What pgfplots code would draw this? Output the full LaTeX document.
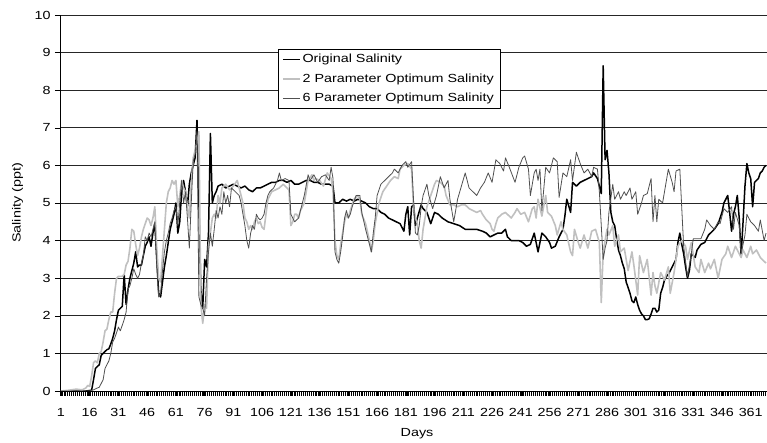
\documentclass[border=0pt]{standalone}
\usepackage{fontspec}
\setmainfont{Liberation Sans}[FakeStretch=1.22]
\usepackage{pgfplots}
\pgfplotsset{compat=1.18}
\definecolor{lgray}{RGB}{192,192,192}
\definecolor{dgray}{RGB}{80,80,80}
\begin{document}
\begin{tikzpicture}[font=\fontsize{11.8}{14}\selectfont]
\begin{axis}[
  at={(0,0)}, anchor=south west,
  scale only axis, width=707bp, height=376bp,
  xmin=0.5, xmax=369.5, ymin=0, ymax=10,
  axis x line*=bottom, axis y line*=left,
  axis line style={-, line width=0.8bp, black},
  ytick={0,1,...,10},
  xtick={1,16,...,361},
  minor xtick={0.5,1.5,...,369.5},
  tick align=outside,
  major tick length=5bp, minor tick length=5bp,
  tick style={black, line width=0.5bp},
  ymajorgrids,
  major grid style={black!85, line width=0.7bp},
  /pgf/number format/assume math mode=true,
  xticklabel style={yshift=-9bp},
  yticklabel style={xshift=-1bp},
  xlabel={Days}, ylabel={Salinity (ppt)},
  every axis x label/.style={at={(axis description cs:0.505,-0.114)}, anchor=center},
  every axis y label/.style={at={(axis description cs:-0.06,0.5)}, rotate=90, anchor=center},
  legend style={at={(axis description cs:0.308,0.909)}, anchor=north west,
    draw=black, fill=white, cells={anchor=west},
    inner xsep=4bp, inner ysep=3bp, row sep=5.5bp,
    font=\fontsize{11.8}{14}\selectfont},
  line join=round,
]
\addplot[black, line width=1.5bp] coordinates {
(1,0)(5,0)(10,0)(14,0)(17,0.02)(18,0.3)(19,0.6)(20,0.65)(21,0.7)(22,0.95)(23,1.0)(24,1.05)(25,1.1)(26,1.12)(27,1.25)(28,1.4)(29,1.6)(30,1.9)(31,2.15)(32,2.2)(33,2.25)(34,3.1)(35,2.3)(36,2.7)(37,3.0)(38,3.2)(39,3.4)(40,3.7)(41,3.3)(42,3.35)(43,3.35)(44,3.6)(45,3.85)(46,3.95)(47,4.1)(48,3.85)(49,4.2)(50,4.45)(51,3.5)(52,2.6)(53,2.5)(54,2.9)(55,3.3)(56,3.6)(57,3.95)(58,4.3)(59,4.5)(60,4.7)(61,5.0)(62,4.2)(63,4.5)(64,5.3)(65,5.6)(66,5.3)(67,4.9)(68,5.5)(69,5.8)(70,6.0)(71,6.2)(72,7.2)(73,5.0)(74,2.7)(75,2.2)(76,3.5)(77,3.3)(78,4.2)(79,6.85)(80,5.0)(81,5.2)(82,5.3)(83,5.45)(85,5.5)(87,5.4)(89,5.45)(91,5.5)(93,5.45)(95,5.4)(97,5.45)(99,5.35)(101,5.3)(103,5.4)(105,5.4)(107,5.45)(109,5.5)(111,5.55)(113,5.55)(115,5.6)(117,5.6)(119,5.55)(121,5.6)(123,5.5)(125,5.5)(127,5.55)(129,5.6)(131,5.6)(133,5.55)(135,5.55)(137,5.5)(139,5.5)(141,5.5)(143,5.45)(144,5.0)(146,5.0)(148,5.1)(150,5.05)(152,5.1)(154,5.05)(156,5.1)(158,5.05)(160,5.0)(162,4.9)(164,4.85)(166,4.85)(168,4.75)(170,4.7)(172,4.6)(174,4.55)(176,4.5)(178,4.45)(180,4.25)(181,4.7)(182,4.9)(183,4.15)(184,4.9)(185,4.95)(186,4.4)(187,4.6)(189,4.95)(190,4.85)(192,4.75)(194,4.45)(196,4.75)(198,4.7)(200,4.6)(203,4.5)(206,4.45)(209,4.4)(212,4.3)(215,4.3)(218,4.3)(221,4.25)(223,4.2)(225,4.1)(227,4.15)(229,4.2)(231,4.2)(233,4.3)(234,4.1)(236,4.0)(238,4.0)(240,4.0)(242,3.95)(244,3.85)(246,3.9)(248,4.2)(250,3.7)(252,4.2)(254,4.1)(256,3.95)(257,3.8)(259,3.85)(261,4.1)(263,4.3)(264,4.65)(265,5.1)(267,4.75)(268,5.55)(270,5.45)(272,5.55)(274,5.6)(276,5.65)(278,5.7)(279,5.8)(281,5.65)(283,5.25)(284,8.65)(285,6.15)(286,6.4)(287,5.8)(288,4.75)(289,4.5)(290,4.4)(291,4.05)(292,3.75)(293,3.6)(294,3.4)(295,3.25)(296,2.9)(297,2.75)(298,2.6)(299,2.4)(300,2.35)(301,2.5)(302,2.3)(303,2.15)(304,2.05)(305,2.0)(306,1.9)(307,1.9)(308,1.92)(309,2.05)(310,2.2)(311,2.2)(312,2.1)(313,2.15)(314,2.6)(315,2.75)(316,2.95)(317,3.05)(318,3.1)(319,3.2)(320,3.3)(321,3.4)(322,3.5)(323,3.95)(324,4.2)(325,3.9)(326,3.65)(327,3.3)(328,3.0)(329,3.2)(330,3.65)(332,3.55)(333,3.75)(335,3.9)(337,3.95)(339,4.15)(340,4.2)(342,4.3)(344,4.45)(346,4.75)(347,5.0)(348,5.1)(349,5.2)(350,4.75)(351,4.25)(352,4.7)(353,4.9)(354,5.2)(355,4.6)(356,3.6)(357,4.5)(358,5.45)(359,6.05)(360,5.8)(361,5.65)(362,4.9)(363,5.55)(364,5.6)(365,5.65)(366,5.8)(367,5.85)(368,5.95)(369,6.0)
};
\addlegendentry{Original Salinity}
\addplot[lgray, line width=1.6bp] coordinates {
(1,0)(5,0.02)(9,0.05)(12,0.03)(14,0.08)(15,0.15)(16,0.12)(17,0.4)(18,0.75)(19,0.8)(20,0.75)(21,1.0)(22,1.05)(23,1.3)(24,1.6)(25,1.65)(26,1.9)(27,2.1)(28,2.1)(29,2.6)(30,3.0)(31,3.05)(32,3.05)(33,3.05)(34,3.1)(35,3.35)(36,3.45)(37,3.8)(38,4.3)(39,4.25)(40,3.9)(41,3.6)(42,3.8)(43,4.1)(44,4.3)(45,4.45)(46,4.6)(47,4.55)(48,4.4)(49,4.6)(50,4.9)(51,3.8)(52,3.0)(53,2.9)(54,3.6)(55,4.3)(56,5.0)(57,5.3)(58,5.4)(59,5.6)(60,5.5)(61,5.6)(62,4.9)(63,5.2)(64,5.6)(65,5.4)(66,5.3)(67,4.9)(68,4.6)(69,5.5)(70,6.2)(71,6.4)(72,6.6)(73,6.9)(74,2.3)(75,1.8)(76,2.3)(77,2.2)(78,3.85)(79,4.2)(80,4.6)(81,4.7)(82,4.6)(83,5.2)(84,5.0)(85,5.4)(87,5.5)(89,5.35)(91,5.45)(93,5.6)(95,5.2)(96,5.0)(97,4.6)(98,4.5)(99,4.3)(100,4.4)(101,4.3)(102,4.5)(103,4.6)(104,4.45)(105,4.5)(106,4.35)(107,4.3)(108,4.7)(109,5.1)(111,5.3)(113,5.35)(115,5.4)(117,5.5)(119,5.4)(120,5.35)(121,4.4)(122,4.5)(123,4.7)(124,4.7)(125,4.6)(126,4.8)(128,5.0)(130,5.6)(132,5.75)(133,5.6)(134,5.65)(136,5.6)(138,5.45)(140,5.8)(142,5.65)(143,5.3)(144,4.0)(145,3.6)(146,3.5)(147,3.9)(148,4.2)(149,4.5)(150,4.7)(151,4.6)(152,4.8)(154,5.1)(156,5.2)(157,5.1)(158,4.7)(160,4.45)(162,4.0)(163,3.7)(164,4.0)(165,4.45)(167,5.0)(169,5.3)(171,5.45)(173,5.6)(175,5.7)(177,5.65)(178,5.9)(180,6.0)(182,6.05)(184,5.9)(185,4.9)(186,4.6)(187,4.45)(188,4.0)(189,3.8)(190,4.3)(191,4.6)(192,4.9)(194,5.2)(196,5.5)(197,5.6)(199,5.55)(201,5.45)(202,5.2)(204,4.95)(206,4.95)(208,4.9)(210,4.95)(212,4.95)(214,4.85)(216,4.8)(218,4.75)(220,4.8)(221,4.7)(223,4.55)(225,4.45)(226,4.3)(227,4.25)(228,4.45)(229,4.6)(231,4.7)(233,4.75)(235,4.65)(236,4.6)(238,4.75)(239,4.85)(241,4.7)(243,4.75)(245,4.5)(247,4.85)(248,4.9)(249,4.6)(250,5.1)(252,4.65)(254,5.2)(255,4.75)(257,4.65)(259,4.4)(260,4.15)(262,4.5)(263,4.3)(265,4.15)(267,3.7)(268,3.6)(269,4.3)(271,3.95)(272,3.8)(274,4.15)(276,3.8)(278,4.25)(280,4.3)(282,3.95)(283,2.35)(284,3.7)(286,4.3)(287,4.15)(289,4.4)(290,3.85)(292,4.15)(293,3.7)(295,3.8)(297,3.2)(299,3.7)(300,3.35)(302,2.55)(303,3.6)(305,3.15)(307,3.5)(309,2.55)(310,3.15)(311,2.8)(312,2.6)(314,3.15)(316,2.95)(318,3.3)(319,2.6)(321,3.15)(323,3.85)(325,4.0)(327,3.85)(328,3.5)(330,3.95)(332,3.3)(334,3.15)(335,3.5)(337,3.15)(339,3.4)(340,3.25)(342,3.5)(344,3.0)(346,3.5)(348,3.65)(349,3.85)(351,3.55)(353,3.85)(354,3.75)(356,3.55)(357,3.75)(359,3.55)(361,3.85)(362,3.65)(364,3.75)(366,3.55)(368,3.45)(369,3.4)
};
\addlegendentry{2 Parameter Optimum Salinity}
\addplot[dgray, line width=0.8bp] coordinates {
(1,0)(10,0)(16,0)(18,0.03)(20,0.08)(21,0.1)(22,0.2)(23,0.3)(24,0.6)(25,0.7)(26,0.8)(27,1.0)(28,1.3)(29,1.4)(30,1.55)(31,1.7)(32,1.6)(33,1.75)(34,1.9)(35,2.1)(36,2.7)(37,2.8)(38,3.0)(39,3.25)(40,3.1)(41,3.0)(42,3.1)(43,3.4)(44,3.6)(45,4.1)(46,4.0)(47,4.2)(48,4.1)(49,4.3)(50,4.5)(51,3.4)(52,2.5)(53,2.6)(54,3.2)(55,3.7)(56,4.0)(57,4.2)(58,4.45)(59,4.6)(60,4.8)(61,4.9)(62,4.4)(63,5.0)(64,5.6)(65,5.0)(66,5.3)(67,4.6)(68,3.8)(69,5.0)(70,6.1)(71,6.3)(72,6.9)(73,2.5)(74,2.3)(75,2.2)(76,2.0)(77,3.0)(78,3.7)(79,4.2)(80,3.85)(81,4.3)(82,4.8)(83,4.6)(84,4.9)(85,4.7)(86,5.3)(87,5.0)(88,5.2)(89,4.9)(90,5.4)(92,5.3)(94,5.2)(95,5.0)(96,4.7)(97,4.4)(98,4.0)(99,3.8)(100,4.2)(101,4.4)(102,4.3)(103,4.7)(104,4.6)(105,4.55)(106,4.6)(107,4.7)(108,5.0)(109,5.2)(110,5.3)(112,5.4)(114,5.6)(115,5.8)(116,5.6)(118,5.65)(120,5.6)(121,4.7)(122,4.6)(123,4.5)(125,4.6)(126,4.8)(128,5.2)(130,5.75)(131,5.6)(133,5.75)(135,5.55)(137,5.7)(139,5.75)(141,5.6)(142,5.95)(143,5.65)(144,3.7)(145,3.5)(146,3.4)(147,3.7)(148,4.1)(149,4.6)(150,4.8)(151,4.6)(152,4.7)(153,4.9)(155,5.2)(157,5.2)(158,4.75)(160,4.3)(162,3.9)(163,3.7)(164,4.2)(165,4.6)(166,5.2)(168,5.5)(170,5.6)(172,5.7)(174,5.8)(175,5.9)(177,5.8)(179,6.0)(181,6.1)(182,5.95)(184,6.1)(185,5.1)(186,4.2)(187,4.15)(188,4.4)(189,4.9)(190,5.2)(192,5.5)(193,5.2)(195,4.85)(197,5.2)(199,5.7)(201,5.4)(203,5.6)(204,5.1)(206,4.5)(208,5.1)(210,5.45)(212,5.8)(214,5.4)(216,5.3)(218,5.2)(220,5.4)(222,5.55)(224,5.8)(226,5.55)(228,6.15)(230,6.05)(232,5.85)(233,6.2)(235,5.95)(238,5.55)(240,5.95)(242,6.2)(243,6.25)(245,5.9)(246,5.2)(248,5.8)(249,5.9)(250,5.6)(251,5.9)(252,4.8)(254,5.95)(256,5.8)(258,6.2)(260,6.1)(261,5.15)(263,5.8)(265,5.7)(267,6.15)(268,5.6)(270,6.35)(272,6.05)(274,5.8)(276,5.9)(278,5.7)(279,5.95)(281,5.9)(282,5.3)(284,3.5)(285,3.8)(286,4.0)(287,4.75)(289,5.5)(290,5.1)(292,5.3)(293,5.1)(295,5.3)(296,5.2)(298,5.4)(299,5.1)(301,5.3)(302,4.7)(304,5.0)(305,5.2)(307,5.25)(309,5.65)(310,4.5)(311,5.2)(312,4.5)(313,5.1)(315,5.0)(318,5.9)(320,5.55)(321,5.3)(322,5.85)(324,5.9)(326,3.85)(328,3.05)(330,3.65)(331,4.05)(333,4.05)(335,4.05)(337,4.3)(338,4.55)(340,4.4)(342,4.3)(344,4.5)(345,4.45)(347,4.85)(349,4.75)(351,4.9)(352,4.3)(353,4.75)(355,4.4)(356,3.65)(358,4.15)(359,4.7)(361,4.5)(363,4.4)(365,4.25)(366,4.55)(368,4.0)(369,4.2)
};
\addlegendentry{6 Parameter Optimum Salinity}
\end{axis}
\pgfresetboundingbox
\useasboundingbox (-60bp,-52bp) rectangle (707bp,391bp);
\end{tikzpicture}
\end{document}
